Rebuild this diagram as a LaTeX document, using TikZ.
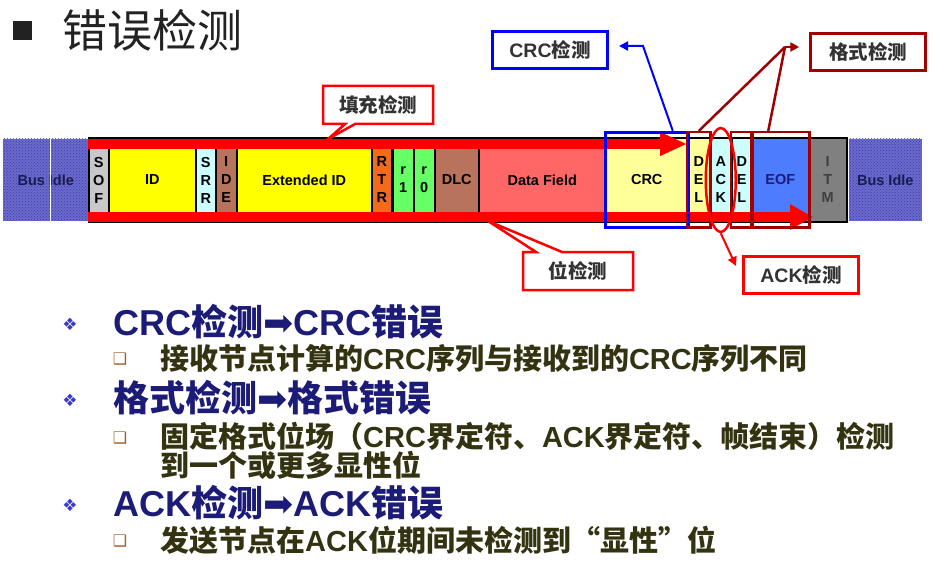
\documentclass[tikz,border=0pt]{standalone}
\usepackage{fontspec}
\setmainfont{Noto Sans CJK SC}
\newfontfamily\latfont{Liberation Sans}
\newfontfamily\symfont{DejaVu Sans}
\usepackage{tikz}
\usetikzlibrary{arrows.meta,shapes.geometric,shapes.callouts,patterns,fit}

\definecolor{idleblue}{HTML}{6A6ACC}
\definecolor{idledot}{HTML}{3C3CA6}
\definecolor{sofgray}{HTML}{C8C8C8}
\definecolor{fieldyellow}{HTML}{FFFF00}
\definecolor{paleblue}{HTML}{CCFFFF}
\definecolor{fieldbrown}{HTML}{B8735C}
\definecolor{rtrorange}{HTML}{F26B1D}
\definecolor{rgreen}{HTML}{66FF66}
\definecolor{datared}{HTML}{FF6666}
\definecolor{crcyellow}{HTML}{FFFF99}
\definecolor{eofblue}{HTML}{4D7CFF}
\definecolor{itmgray}{HTML}{808080}
\definecolor{darkred}{HTML}{A00000}
\definecolor{navy}{HTML}{1C1C78}
\definecolor{idletext}{HTML}{1A1A55}
\definecolor{subtext}{HTML}{333311}
\definecolor{labgray}{HTML}{333333}
\definecolor{titlegray}{HTML}{222222}
\definecolor{markblue}{HTML}{3A3AC8}
\definecolor{markbrown}{HTML}{A0602A}

\newcommand{\en}[1]{{\latfont\bfseries #1}}
\newcommand{\thenarrow}{{\symfont\mdseries ➡}}

\tikzset{
  field/.style={draw=black, line width=1.5pt, minimum height=84pt, inner sep=0pt,
    anchor=west, align=center, font=\latfont\bfseries\fontsize{14.5}{18}\selectfont},
  idle/.style={field, draw=none, fill=idleblue, minimum height=82pt, text=idletext,
    postaction={pattern=crosshatch dots, pattern color=idledot}},
  band/.style={red, line width=10pt},
  frame/.style={draw, line width=2.5pt, inner xsep=0pt, inner ysep=5pt},
  labbox/.style={draw, line width=2.5pt, fill=white, minimum width=115pt, minimum height=37pt,
    text=labgray, font=\bfseries\fontsize{19.5}{20}\selectfont},
  callbox/.style={labbox, rectangle callout, draw=red, minimum width=110pt, minimum height=38pt},
  mainitem/.style={anchor=west, inner sep=0pt, text=navy, font=\bfseries\fontsize{36}{40}\selectfont},
  subitem/.style={anchor=west, inner sep=0pt, align=left, text=subtext, font=\bfseries\fontsize{29}{28}\selectfont},
  diamondmark/.style={text=markblue, font=\symfont\fontsize{17}{17}\selectfont},
  boxmark/.style={text=markbrown, font=\symfont\fontsize{16}{16}\selectfont}
}

\begin{document}
\begin{tikzpicture}[x=1pt,y=-1pt]
\useasboundingbox (0,0) rectangle (933,569);

\node[fill=titlegray, minimum size=19pt, inner sep=0pt] (titlemark) at (22,31) {};
\node[anchor=west, inner sep=0pt, text=titlegray, font=\fontsize{45}{50}\selectfont] (title) at (62,30) {错误检测};

\node[idle, minimum width=86pt] (idleL) at (2,180) {Bus Idle};
\draw[white, line width=1pt] ([xshift=5pt]idleL.north) -- ([xshift=5pt]idleL.south);
\node[field, fill=sofgray, minimum width=20pt] (sof) at (88,180) {S\\O\\F};
\node[field, fill=fieldyellow, minimum width=87pt] (id) at (108,180) {ID};
\node[field, fill=paleblue, minimum width=20pt] (srr) at (195,180) {S\\R\\R};
\node[field, fill=fieldbrown, minimum width=21pt] (ide) at (215,180) {I\\D\\E};
\node[field, fill=fieldyellow, minimum width=135pt] (extid) at (236,180) {Extended ID};
\node[field, fill=rtrorange, minimum width=20pt] (rtr) at (371,180) {R\\T\\R};
\node[field, fill=rgreen, minimum width=21pt] (rone) at (392,180) {r\\1};
\node[field, fill=rgreen, minimum width=21pt] (rzero) at (413,180) {r\\0};
\node[field, fill=fieldbrown, minimum width=44pt] (dlc) at (434,180) {DLC};
\node[field, fill=datared, minimum width=127pt] (data) at (478,180) {Data Field};
\node[field, fill=crcyellow, minimum width=82pt] (crc) at (605,180) {CRC};
\node[field, fill=crcyellow, minimum width=22pt] (delone) at (687,180) {D\\E\\L};
\node[field, fill=paleblue, minimum width=22pt] (ack) at (709,180) {A\\C\\K};
\node[field, fill=paleblue, minimum width=20pt] (deltwo) at (731,180) {D\\E\\L};
\node[field, fill=eofblue, minimum width=57pt, text=navy] (eof) at (751,180) {EOF};
\node[field, fill=itmgray, minimum width=38pt, text=black!75] (itm) at (808,180) {I\\T\\M};
\node[idle, minimum width=73pt] (idleR) at (848,180) {Bus Idle};

\coordinate (topy) at (0,144);
\coordinate (boty) at (0,217);
\coordinate (botend) at (813,217);
\draw[band, -{Triangle[length=27pt,width=22pt]}] (sof.west |- topy) -- (delone.west |- topy);
\draw[band, -{Triangle[length=23pt,width=24pt]}] (sof.west |- boty) -- (botend);

\node[frame, draw=blue, line width=3pt, fit=(crc)] (crcbox) {};
\node[frame, draw=darkred, fit=(delone)] (delonebox) {};
\node[frame, draw=darkred, fit=(deltwo)] (deltwobox) {};
\node[frame, draw=darkred, fit=(eof)] (eofbox) {};
\node[ellipse, draw=red, line width=2.5pt, minimum width=30pt, minimum height=104pt] (ackring) at (ack.center) {};

\node[callbox, callout absolute pointer={(328,139)}, callout pointer width=10pt] (stufflab) at (378,105) {填充检测};
\node[callbox, callout absolute pointer={(488,221)}, callout pointer width=26pt] (bitlab) at (578,271) {位检测};

\node[labbox, draw=blue, line width=3pt] (crclab) at (550,50) {\en{CRC}检测};
\node[labbox, draw=darkred] (fmtlab) at (868,52) {格式检测};
\node[labbox, draw=red] (acklab) at (801,275) {\en{ACK}检测};

\coordinate (crcbend) at (643,46);
\draw[blue, line width=2pt, -{Triangle[length=9pt,width=9pt]}] ([xshift=26pt]crcbox.north) -- (crcbend) -- ([xshift=10pt,yshift=4pt]crclab.east);
\coordinate (fmtjoin) at (785,47);
\draw[darkred, line width=2.5pt] (delonebox.north) -- (fmtjoin);
\draw[darkred, line width=2.5pt] ([xshift=-12pt]eofbox.north) -- (fmtjoin);
\draw[darkred, line width=2.5pt, -{Triangle[length=9pt,width=9pt]}] (fmtjoin) -- ([xshift=-10pt]fmtlab.west |- fmtjoin);
\coordinate (ackend) at (736,266);
\draw[red, line width=2pt, -{Triangle[length=9pt,width=9pt]}] (ackring.south) -- (ackend);

\node[diamondmark] (markone) at (70,324) {❖};
\node[mainitem] (itemone) at (113,322) {\en{CRC}检测\thenarrow\en{CRC}错误};
\node[boxmark] (markonea) at (120,359) {❑};
\node[subitem] (subone) at (160,358) {接收节点计算的\en{CRC}序列与接收到的\en{CRC}序列不同};
\node[diamondmark] (marktwo) at (70,400) {❖};
\node[mainitem] (itemtwo) at (113,398) {格式检测\thenarrow 格式错误};
\node[boxmark] (marktwoa) at (120,438) {❑};
\node[subitem] (subtwo) at (160,451) {固定格式位场（\en{CRC}界定符、\en{ACK}界定符、帧结束）检测\\到一个或更多显性位};
\node[diamondmark] (markthree) at (70,505) {❖};
\node[mainitem] (itemthree) at (113,503) {\en{ACK}检测\thenarrow\en{ACK}错误};
\node[boxmark] (markthreea) at (120,541) {❑};
\node[subitem] (subthree) at (160,540) {发送节点在\en{ACK}位期间未检测到“显性”位};
\end{tikzpicture}
\end{document}
